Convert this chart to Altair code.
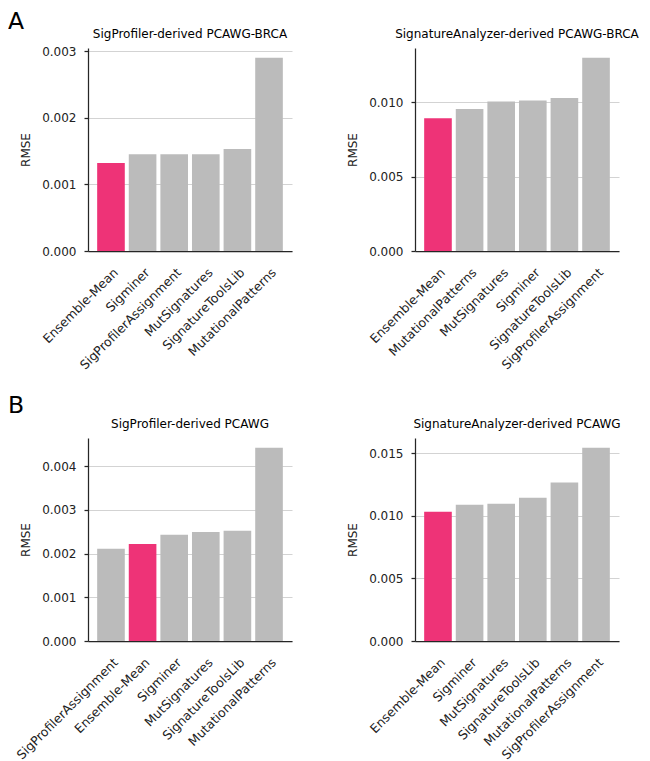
import altair as alt
import pandas as pd

# ---- data ----
titles = [
    "SigProfiler-derived PCAWG-BRCA",
    "SignatureAnalyzer-derived PCAWG-BRCA",
    "SigProfiler-derived PCAWG",
    "SignatureAnalyzer-derived PCAWG",
]
letters = ["A", None, "B", None]
letter_y = [-19, 0, -25, 0]

cats_a1 = ["Ensemble-Mean", "Sigminer", "SigProfilerAssignment", "MutSignatures",
           "SignatureToolsLib", "MutationalPatterns"]
vals_a1 = [0.00132, 0.00145, 0.00145, 0.00145, 0.00153, 0.00290]

cats_a2 = ["Ensemble-Mean", "MutationalPatterns", "MutSignatures", "Sigminer",
           "SignatureToolsLib", "SigProfilerAssignment"]
vals_a2 = [0.00892, 0.00953, 0.01004, 0.01011, 0.01027, 0.01298]

cats_b1 = ["SigProfilerAssignment", "Ensemble-Mean", "Sigminer", "MutSignatures",
           "SignatureToolsLib", "MutationalPatterns"]
vals_b1 = [0.00211, 0.00222, 0.00243, 0.00249, 0.00252, 0.00442]

cats_b2 = ["Ensemble-Mean", "Sigminer", "MutSignatures", "SignatureToolsLib",
           "MutationalPatterns", "SigProfilerAssignment"]
vals_b2 = [0.01032, 0.01088, 0.01096, 0.01144, 0.01267, 0.01545]

ticks_a1 = [0.0, 0.001, 0.002, 0.003]
ticks_a2 = [0.0, 0.005, 0.010]
ticks_b1 = [0.0, 0.001, 0.002, 0.003, 0.004]
ticks_b2 = [0.0, 0.005, 0.010, 0.015]

HIGHLIGHT = "Ensemble-Mean"
PINK = "#EE3377"
GRAY = "#BBBBBB"
FONT = "DejaVu Sans"
W, H = 204, 203


def panel(title, cats, vals, ticks, letter=None, ly=0):
    df = pd.DataFrame({"method": cats, "rmse": vals})
    df["hl"] = df["method"].eq(HIGHLIGHT).map({True: "hl", False: "other"})
    ymax = max(vals) * 1.05
    bars = alt.Chart(df).mark_bar().encode(
        x=alt.X("method:N", sort=cats,
                scale=alt.Scale(paddingInner=0.126, paddingOuter=0.29),
                axis=alt.Axis(title=None, labelAngle=-45, ticks=False,
                              labelAlign="right", labelBaseline="middle",
                              labelPadding=19, labelOffset=5, labelFontSize=12.5,
                              grid=False)),
        y=alt.Y("rmse:Q", scale=alt.Scale(domain=[0, ymax], nice=False, zero=True),
                axis=alt.Axis(values=ticks, format=".3f", title="RMSE",
                              grid=True, tickSize=4, labelPadding=8,
                              titlePadding=9)),
        color=alt.Color("hl:N", scale=alt.Scale(domain=["hl", "other"], range=[PINK, GRAY]),
                        legend=None),
    )
    tdf = pd.DataFrame({"t": [title]})
    ttl = alt.Chart(tdf).mark_text(align="center", baseline="alphabetic",
                                   fontSize=12, font=FONT, color="black").encode(
        x=alt.value(W / 2), y=alt.value(-10), text="t:N")
    layers = [bars, ttl]
    if letter is not None:
        ldf = pd.DataFrame({"t": [letter]})
        txt = alt.Chart(ldf).mark_text(align="left", baseline="alphabetic",
                                       fontSize=23.5, font=FONT, color="black").encode(
            x=alt.value(-80), y=alt.value(ly), text="t:N")
        layers.append(txt)
    return alt.layer(*layers).properties(width=W, height=H)


p1 = panel(titles[0], cats_a1, vals_a1, ticks_a1, letters[0], letter_y[0])
p2 = panel(titles[1], cats_a2, vals_a2, ticks_a2, letters[1], letter_y[1])
p3 = panel(titles[2], cats_b1, vals_b1, ticks_b1, letters[2], letter_y[2])
p4 = panel(titles[3], cats_b2, vals_b2, ticks_b2, letters[3], letter_y[3])

chart = alt.concat(p1, p2, p3, p4, columns=2, bounds="flush",
                   spacing=alt.RowColnumber(row=187, column=123)).properties(
    padding={"top": 2, "left": 0, "right": 0, "bottom": 0})
chart = chart.configure_view(stroke=None).configure_axis(
    labelFont=FONT, titleFont=FONT, labelFontSize=12, titleFontSize=12,
    labelColor="#222222", titleColor="#222222", titleFontWeight="normal",
    domainColor="#262626", domainWidth=1.25, tickColor="#262626", tickWidth=1.25,
    gridColor="#D3D3D3", gridWidth=1,
)
chart.save("out.html", embed_options={"renderer": "svg", "actions": False})
